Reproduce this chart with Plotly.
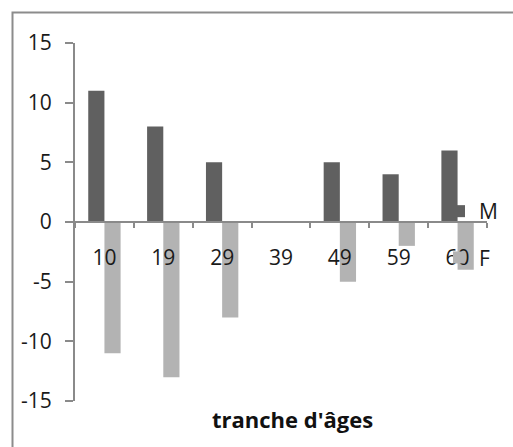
import plotly.graph_objects as go

# Age brackets and counts per sex (women plotted as negative values)
categories = ["10", "19", "29", "39", "49", "59", "60"]
hommes = [11, 8, 5, 0, 5, 4, 6]
femmes = [-11, -13, -8, 0, -5, -2, -4]
y_ticks = [-15, -10, -5, 0, 5, 10, 15]

W, H = 513, 447
ML, MR, MT, MB = 75, 26, 43, 46
PW, PH = W - ML - MR, H - MT - MB


def px_x(px):
    return (px - ML) / PW


def px_y(py):
    return (H - MB - py) / PH


AXIS = "#8a8a8a"
FONT = "Open Sans"

fig = go.Figure()
fig.add_trace(go.Bar(x=categories, y=hommes, name="M", legendgroup="M",
                     marker=dict(color="#606060", line=dict(width=0))))
fig.add_trace(go.Bar(x=categories, y=femmes, name="F", legendgroup="F",
                     marker=dict(color="#b3b3b3", line=dict(width=0))))

fig.update_layout(
    width=W, height=H,
    margin=dict(l=ML, r=MR, t=MT, b=MB, autoexpand=False),
    paper_bgcolor="white", plot_bgcolor="white",
    barmode="group", bargap=0.45, bargroupgap=0,
    font=dict(family=FONT, size=21, color="#1a1a1a"),
    showlegend=True,
    legend=dict(
        x=px_x(439), y=px_y(191), xanchor="left", yanchor="top",
        bgcolor="rgba(0,0,0,0)", borderwidth=0,
        traceorder="grouped", tracegroupgap=16,
        font=dict(family=FONT, size=21, color="#1a1a1a"),
    ),
    xaxis=dict(
        type="category", range=[-0.5, len(categories) - 0.5],
        anchor="free", position=0.5,
        showline=True, linecolor=AXIS, linewidth=2,
        ticks="outside", tickson="boundaries", ticklen=5,
        tickcolor=AXIS, tickwidth=2,
        ticklabelstandoff=17,
        showgrid=False, zeroline=False,
        tickfont=dict(family=FONT, size=21, color="#1a1a1a"),
    ),
    yaxis=dict(
        range=[-15, 15], tickmode="array", tickvals=y_ticks,
        ticktext=[str(v) for v in y_ticks],
        showline=True, linecolor=AXIS, linewidth=2,
        ticks="outside", ticklen=8, tickcolor=AXIS, tickwidth=2,
        ticklabelstandoff=9,
        showgrid=False, zeroline=False,
        tickfont=dict(family=FONT, size=21, color="#1a1a1a"),
    ),
    annotations=[dict(
        text="<b>tranche d'âges</b>", xref="paper", yref="paper",
        x=px_x(292), y=px_y(419), xanchor="center", yanchor="middle",
        showarrow=False, font=dict(family=FONT, size=22, color="#111"),
    )],
    shapes=[dict(
        type="rect", xref="paper", yref="paper",
        x0=px_x(12.5), y0=px_y(470), x1=px_x(540), y1=px_y(12.5),
        line=dict(color="#8c8c8c", width=2), fillcolor="rgba(0,0,0,0)",
    )],
)

fig.write_html("out.html")
